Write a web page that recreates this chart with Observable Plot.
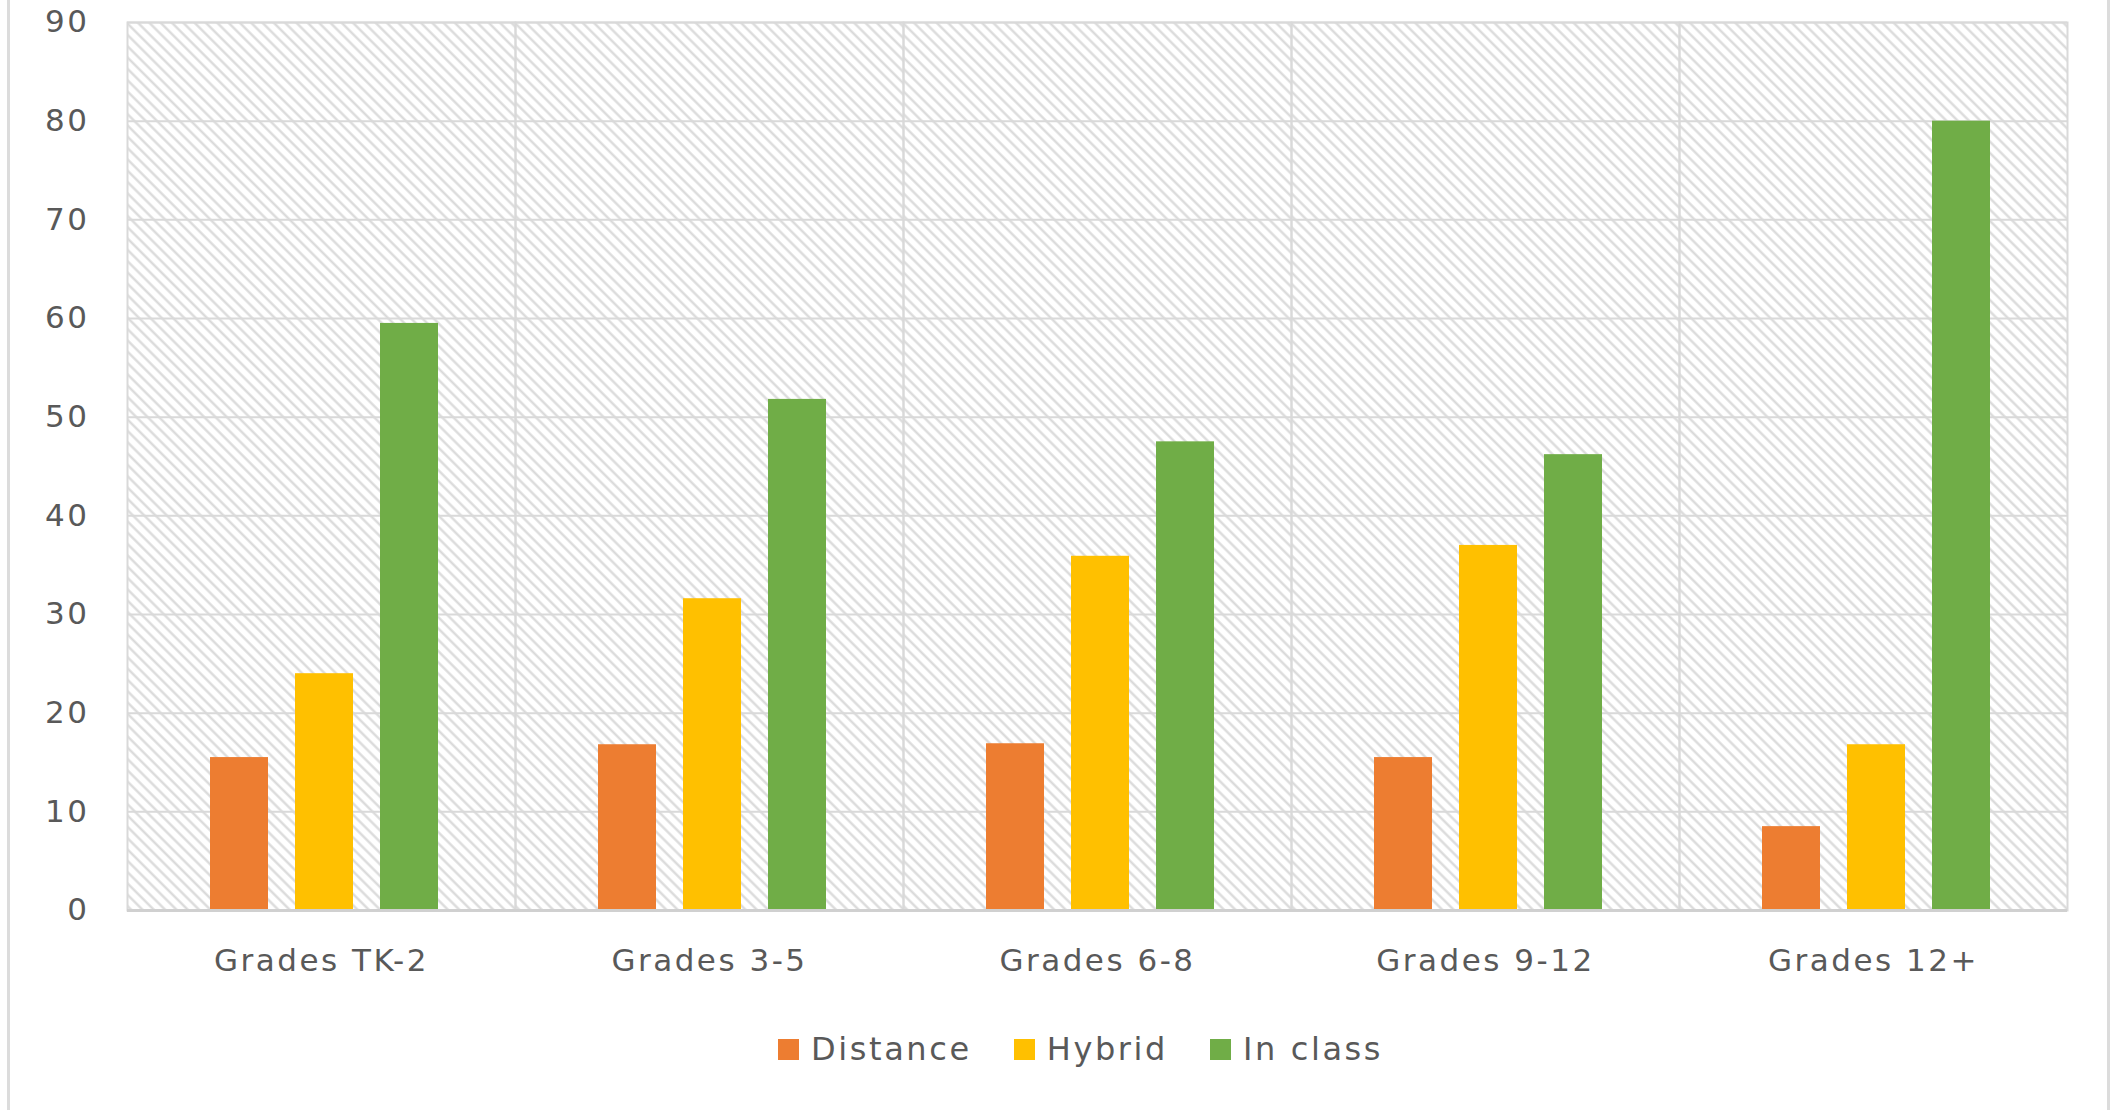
<!DOCTYPE html>
<html>
<head>
<meta charset="utf-8">
<script src="https://cdn.jsdelivr.net/npm/d3@7"></script>
<script src="https://cdn.jsdelivr.net/npm/@observablehq/plot@0.6"></script>
<style>
  html, body { margin: 0; padding: 0; background: #ffffff; }
  #wrap { position: relative; width: 2113px; height: 1110px; overflow: hidden; background: #fff; }
  .edge { position: absolute; top: 0; width: 3px; height: 1110px; background: #dcdcdc; }
  #legend { position: absolute; top: 1030px; left: 778px; display: flex; align-items: center;
            font-family: "DejaVu Sans", sans-serif; font-size: 32px; letter-spacing: 2.6px; color: #595959; }
  #legend .item { display: flex; align-items: center; margin-right: 42px; }
  #legend .sw { width: 21px; height: 21px; margin-right: 12px; }
</style>
</head>
<body>
<div id="wrap">
  <div class="edge" style="left:7px"></div>
  <div class="edge" style="left:2107px"></div>
  <div id="chart"></div>
  <div id="legend"></div>
</div>
<script>
const categories = ["Grades TK-2", "Grades 3-5", "Grades 6-8", "Grades 9-12", "Grades 12+"];
const series = ["Distance", "Hybrid", "In class"];
const distance = [15.5, 16.8, 16.9, 15.5, 8.5];
const hybrid = [24.0, 31.6, 35.9, 37.0, 16.8];
const inClass = [59.5, 51.8, 47.5, 46.2, 80.0];
const colors = ["#ED7D31", "#FFC000", "#70AD47"];
const yTicks = [0, 10, 20, 30, 40, 50, 60, 70, 80, 90];

const valuesBySeries = [distance, hybrid, inClass];
const data = [];
categories.forEach((c, i) => {
  series.forEach((s, j) => data.push({category: c, series: s, value: valuesBySeries[j][i]}));
});

const plot = Plot.plot({
  width: 2113,
  height: 1000,
  marginLeft: 127,
  marginRight: 46,
  marginTop: 22,
  marginBottom: 90,
  style: {fontFamily: "DejaVu Sans, sans-serif", fontSize: "31px", color: "#595959", background: "transparent", letterSpacing: "2.5px"},
  fx: {domain: categories, padding: 0, label: null, axis: "bottom", tickSize: 0, tickPadding: 38},
  x: {domain: series, paddingInner: 0.32, paddingOuter: 0.93, align: 0.52, axis: null},
  y: {domain: [0, 90], ticks: yTicks, label: null, tickSize: 0, tickPadding: 38},
  color: {domain: series, range: colors},
  marks: [
    Plot.frame({fill: "url(#hatch)", stroke: "none"}),
    Plot.gridY(yTicks, {stroke: "#d9d9d9", strokeOpacity: 1, strokeWidth: 2}),
    Plot.frame({stroke: "#d9d9d9", strokeWidth: 2}),
    Plot.barY(data, {fx: "category", x: "series", y: "value", fill: "series"}),
    Plot.ruleY([0], {stroke: "#d0d0d0", strokeWidth: 3})
  ]
});

const ns = "http://www.w3.org/2000/svg";
const defs = document.createElementNS(ns, "defs");
defs.innerHTML = '<pattern id="hatch" patternUnits="userSpaceOnUse" width="8" height="8" patternTransform="rotate(-45)">' +
  '<rect width="8" height="8" fill="#ffffff"/>' +
  '<line x1="1.5" y1="0" x2="1.5" y2="8" stroke="#d8d8d8" stroke-width="2.2"/></pattern>';
plot.insertBefore(defs, plot.firstChild);
document.getElementById("chart").appendChild(plot);

const legend = document.getElementById("legend");
series.forEach((s, j) => {
  const item = document.createElement("div");
  item.className = "item";
  const sw = document.createElement("div");
  sw.className = "sw";
  sw.style.background = colors[j];
  const lab = document.createElement("span");
  lab.textContent = s;
  item.appendChild(sw);
  item.appendChild(lab);
  legend.appendChild(item);
});
</script>
</body>
</html>
